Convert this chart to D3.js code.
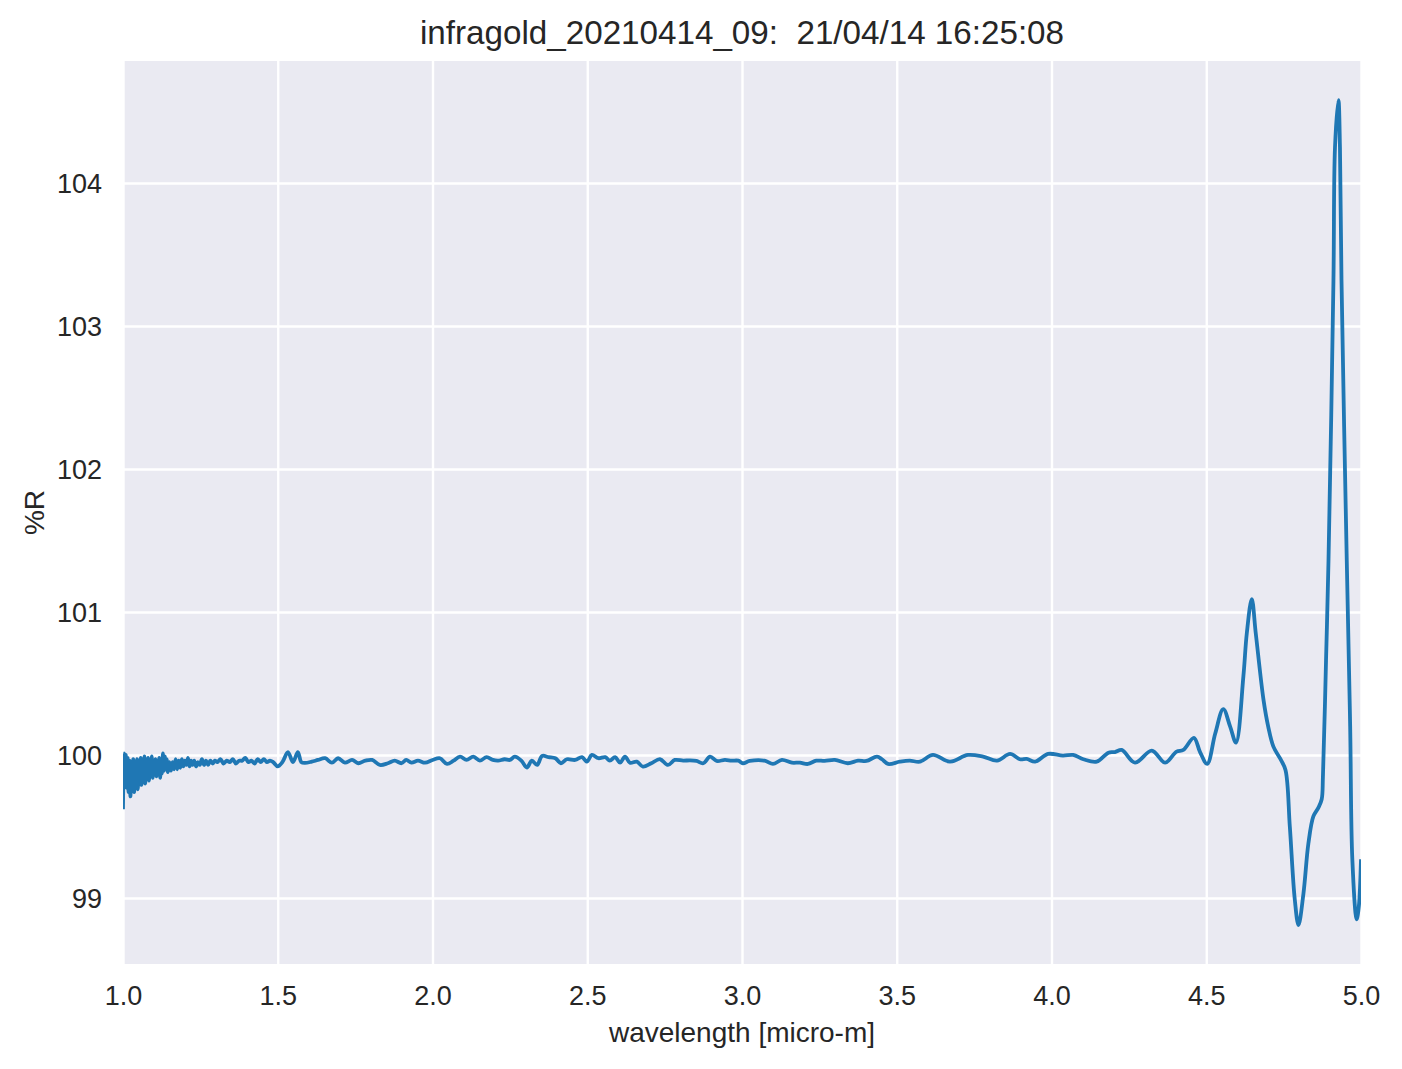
<!DOCTYPE html>
<html>
<head>
<meta charset="utf-8">
<script src="https://cdn.jsdelivr.net/npm/d3@7"></script>
<style>
  html, body { margin: 0; padding: 0; background: #ffffff; }
  svg { display: block; }
  text { font-family: "Liberation Sans", Arial, sans-serif; fill: #262626; }
</style>
</head>
<body>
<svg id="chart" width="1402" height="1069"></svg>
<script>
// ---- data ----
const titleText = "infragold_20210414_09:  21/04/14 16:25:08";
const xLabel = "wavelength [micro-m]";
const yLabel = "%R";
const xTicks = [1.0, 1.5, 2.0, 2.5, 3.0, 3.5, 4.0, 4.5, 5.0];
const yTicks = [99, 100, 101, 102, 103, 104];

// noisy start of the spectrum
const wlNoise = [1.000,1.003,1.006,1.009,1.012,1.015,1.018,1.021,1.024,1.027,1.030,1.033,1.036,1.039,1.042,1.045,1.048,1.051,1.054,1.057,1.060,1.063,1.066,1.069,1.072,1.075,1.078,1.081,1.084,1.087,1.090,1.093,1.096,1.099,1.102,1.105,1.108,1.111,1.114,1.117,1.120,1.123,1.126,1.129,1.132,1.135,1.138];
const rNoise  = [99.62,100.01,99.80,100.00,99.77,99.98,99.74,99.96,99.71,99.95,99.78,99.97,99.74,99.95,99.79,99.97,99.76,99.95,99.82,99.98,99.79,99.96,99.83,99.99,99.80,99.95,99.85,99.98,99.82,99.96,99.86,99.99,99.84,99.95,99.87,99.97,99.85,99.96,99.87,99.98,99.84,99.96,99.87,100.01,99.89,99.99,99.92];

// main, calmer part 1.14 - 4.1
const wlMain = [1.141,1.145,1.150,1.155,1.160,1.165,1.170,1.175,1.180,1.185,1.190,1.195,1.200,1.205,1.210,1.215,1.220,1.225,1.230,1.236,1.242,1.248,1.255,1.262,1.268,1.275,1.282,1.290,1.297,
  1.305,1.315,1.325,1.335,1.345,1.355,1.365,1.375,1.385,1.395,1.405,1.415,1.425,1.435,1.445,1.455,1.465,1.475,1.485,1.500,1.515,1.533,1.549,1.565,1.576,
  1.588,1.610,1.630,1.653,1.675,1.695,1.717,1.740,1.760,1.783,1.805,1.830,1.856,1.878,1.900,1.915,1.932,1.953,1.976,2.000,2.024,2.047,2.068,2.089,2.110,2.132,2.153,2.175,
  2.195,2.212,2.233,2.250,2.266,2.287,2.305,2.321,2.338,2.354,2.375,2.397,2.415,2.434,2.461,2.483,2.499,2.515,2.536,2.558,2.573,2.590,2.606,2.622,2.638,2.660,2.680,2.707,2.735,2.761,2.783,2.810,2.832,
  2.853,2.875,2.897,2.918,2.945,2.966,2.988,3.003,3.025,3.073,3.100,3.129,3.161,3.187,3.213,3.240,3.267,3.300,3.342,3.375,3.402,3.436,3.452,
  3.472,3.510,3.542,3.575,3.617,3.672,3.730,3.779,3.824,3.866,3.898,3.920,3.947,3.989,4.037,4.070,4.103];
const rMain  = [99.97,99.88,99.95,99.89,99.95,99.90,99.97,99.90,99.96,99.91,99.97,99.92,99.96,99.93,99.98,99.92,99.96,99.93,99.96,99.92,99.95,99.93,99.97,99.93,99.96,99.93,99.96,99.94,99.96,
  99.95,99.97,99.94,99.96,99.95,99.97,99.94,99.96,99.96,99.98,99.95,99.96,99.94,99.97,99.95,99.97,99.95,99.96,99.95,99.92,99.95,100.02,99.95,100.02,99.95,
  99.944,99.953,99.965,99.977,99.946,99.977,99.946,99.965,99.942,99.960,99.965,99.930,99.942,99.960,99.942,99.965,99.946,99.960,99.946,99.965,99.977,99.937,99.960,99.988,99.965,99.988,99.960,99.985,
  99.965,99.960,99.970,99.965,99.988,99.960,99.912,99.960,99.930,99.993,99.985,99.977,99.942,99.970,99.965,99.985,99.953,100.000,99.977,99.985,99.960,99.985,99.946,99.988,99.946,99.953,99.918,99.942,99.970,99.930,99.965,99.960,99.962,
  99.958,99.942,99.988,99.958,99.965,99.960,99.960,99.942,99.958,99.960,99.937,99.965,99.946,99.946,99.937,99.960,99.958,99.965,99.942,99.960,99.958,99.988,99.970,
  99.937,99.953,99.960,99.953,100.000,99.953,100.000,99.988,99.960,100.007,99.970,99.972,99.953,100.007,99.995,100.000,99.970];

// tail with the large oscillations 4.1 - 5.0
const wlTail = [4.146,4.184,4.205,4.227,4.270,4.324,4.367,4.404,4.426,4.460,4.480,4.503,4.529,4.555,4.577,4.596,4.620,4.631,4.647,4.660,4.685,4.700,4.717,4.740,4.756,4.770,4.786,4.798,4.814,4.830,4.846,4.862,4.873,4.877,4.887,4.895,4.911,4.916,4.927,4.932,4.937,4.954,4.965,4.972,4.986,4.993,5.000];
const rTail  = [99.953,100.016,100.02,100.035,99.946,100.03,99.946,100.023,100.035,100.12,100.02,99.937,100.15,100.32,100.20,100.086,100.55,100.85,101.09,100.85,100.385,100.20,100.058,99.97,99.895,99.50,98.99,98.81,99.03,99.38,99.57,99.63,99.69,99.85,100.66,101.36,103.32,104.25,104.58,104.25,103.32,101.36,100.20,99.27,98.85,98.94,99.27];

const wavelength = wlNoise.concat(wlMain, wlTail);
const reflectance = rNoise.concat(rMain, rTail);

// ---- layout ----
const plot = { left: 123, right: 1361, top: 61, bottom: 964 };

const svg = d3.select("#chart");
const x = d3.scaleLinear().domain([1, 5]).range([plot.left, plot.right]);
const y = d3.scaleLinear().domain([98.538, 104.853]).range([plot.bottom, plot.top]);

// background
svg.append("rect")
  .attr("x", plot.left).attr("y", plot.top)
  .attr("width", plot.right - plot.left).attr("height", plot.bottom - plot.top)
  .attr("fill", "#EAEAF2");

// grid via axes
const gx = svg.append("g").attr("transform", `translate(0,${plot.bottom})`)
  .call(d3.axisBottom(x).tickValues(xTicks).tickFormat(d3.format(".1f"))
        .tickSize(-(plot.bottom - plot.top)).tickPadding(22));
const gy = svg.append("g").attr("transform", `translate(${plot.left},0)`)
  .call(d3.axisLeft(y).tickValues(yTicks).tickFormat(d3.format("d"))
        .tickSize(-(plot.right - plot.left)).tickPadding(21));

[gx, gy].forEach(g => {
  g.select(".domain").remove();
  g.selectAll(".tick line").attr("stroke", "#ffffff").attr("stroke-width", 2.4);
  g.selectAll(".tick text").attr("font-size", 27).attr("fill", "#262626")
    .attr("font-family", "'Liberation Sans', Arial, sans-serif");
});
gx.selectAll(".tick text").attr("dy", "0.71em");
gy.selectAll(".tick text").attr("dy", "0.35em");

// clip
svg.append("clipPath").attr("id", "clip").append("rect")
  .attr("x", plot.left).attr("y", plot.top)
  .attr("width", plot.right - plot.left).attr("height", plot.bottom - plot.top);

const pts = wavelength.map((w, i) => [w, reflectance[i]]);
const line = d3.line().x(d => x(d[0])).y(d => y(d[1])).curve(d3.curveCatmullRom.alpha(0.5));

svg.append("path")
  .attr("clip-path", "url(#clip)")
  .attr("d", line(pts))
  .attr("fill", "none")
  .attr("stroke", "#1f77b4")
  .attr("stroke-width", 3.8)
  .attr("stroke-linejoin", "round")
  .attr("stroke-linecap", "butt");

// title and labels
svg.append("text")
  .attr("x", (plot.left + plot.right) / 2).attr("y", 44)
  .attr("text-anchor", "middle").attr("font-size", 33.2)
  .style("white-space", "pre")
  .text(titleText);

svg.append("text")
  .attr("x", (plot.left + plot.right) / 2).attr("y", 1042)
  .attr("text-anchor", "middle").attr("font-size", 28)
  .text(xLabel);

svg.append("text")
  .attr("transform", `translate(44,${(plot.top + plot.bottom) / 2}) rotate(-90)`)
  .attr("text-anchor", "middle").attr("font-size", 28)
  .text(yLabel);
</script>
</body>
</html>
